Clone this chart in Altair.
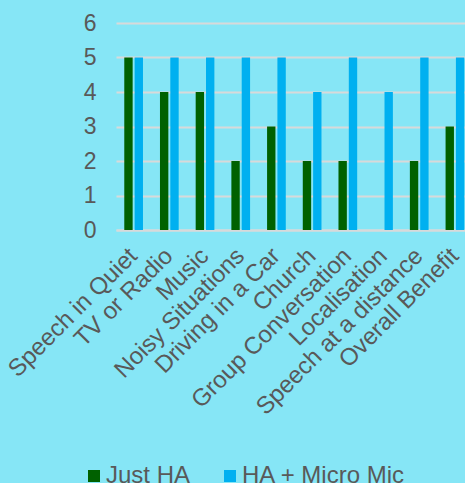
import altair as alt
import pandas as pd

categories = [
    "Speech in Quiet", "TV or Radio", "Music", "Noisy Situations",
    "Driving in a Car", "Church", "Group Conversation", "Localisation",
    "Speech at a distance", "Overall Benefit",
]
just_ha = [5, 4, 4, 2, 3, 2, 2, 0, 2, 3]
ha_micro_mic = [5, 5, 5, 5, 5, 4, 5, 4, 5, 5]
series = ["Just HA", "HA + Micro Mic"]
colors = ["#006100", "#00B0F0"]
y_ticks = [0, 1, 2, 3, 4, 5, 6]

rows = []
for c, a, b in zip(categories, just_ha, ha_micro_mic):
    rows.append({"Category": c, "Series": series[0], "Value": a})
    rows.append({"Category": c, "Series": series[1], "Value": b})
df = pd.DataFrame(rows)

TEXT = "#595959"
GRID = "#D9D9D9"

chart = alt.Chart(df).mark_bar().encode(
    x=alt.X(
        "Category:N",
        sort=categories,
        scale=alt.Scale(paddingInner=0.476, paddingOuter=0.126, align=0.92),
        axis=alt.Axis(
            title=None, labelAngle=315, labelAlign="right", labelBaseline="middle",
            labelFontSize=24, labelColor=TEXT, ticks=False, domainColor=GRID,
            domainWidth=2, labelPadding=22, labelLimit=400, labelOverlap=False,
        ),
    ),
    xOffset=alt.XOffset("Series:N", sort=series, scale=alt.Scale(paddingInner=0.19)),
    y=alt.Y(
        "Value:Q",
        scale=alt.Scale(domain=[0, 6]),
        axis=alt.Axis(
            title=None, values=y_ticks, format="d", labelFontSize=23, labelColor=TEXT,
            ticks=False, domain=False, gridColor=GRID, gridWidth=2, labelPadding=20,
        ),
    ),
    color=alt.Color(
        "Series:N",
        sort=series,
        scale=alt.Scale(domain=series, range=colors),
        legend=alt.Legend(
            title=None, orient="none", direction="horizontal", legendX=-34, legendY=441,
            symbolType="square", symbolSize=144, symbolStrokeWidth=0, labelFontSize=24,
            labelColor=TEXT, labelOffset=0, columnPadding=27, labelLimit=400,
        ),
    ),
).properties(
    width=349,
    height=207,
    padding={"left": 116, "top": 23, "right": 0, "bottom": 253},
    autosize=alt.AutoSizeParams(type="none"),
    background="#86E6F6",
).configure(
    font="Liberation Sans",
).configure_view(stroke=None)

chart.save("out.html", embed_options={"renderer": "svg", "actions": False})
